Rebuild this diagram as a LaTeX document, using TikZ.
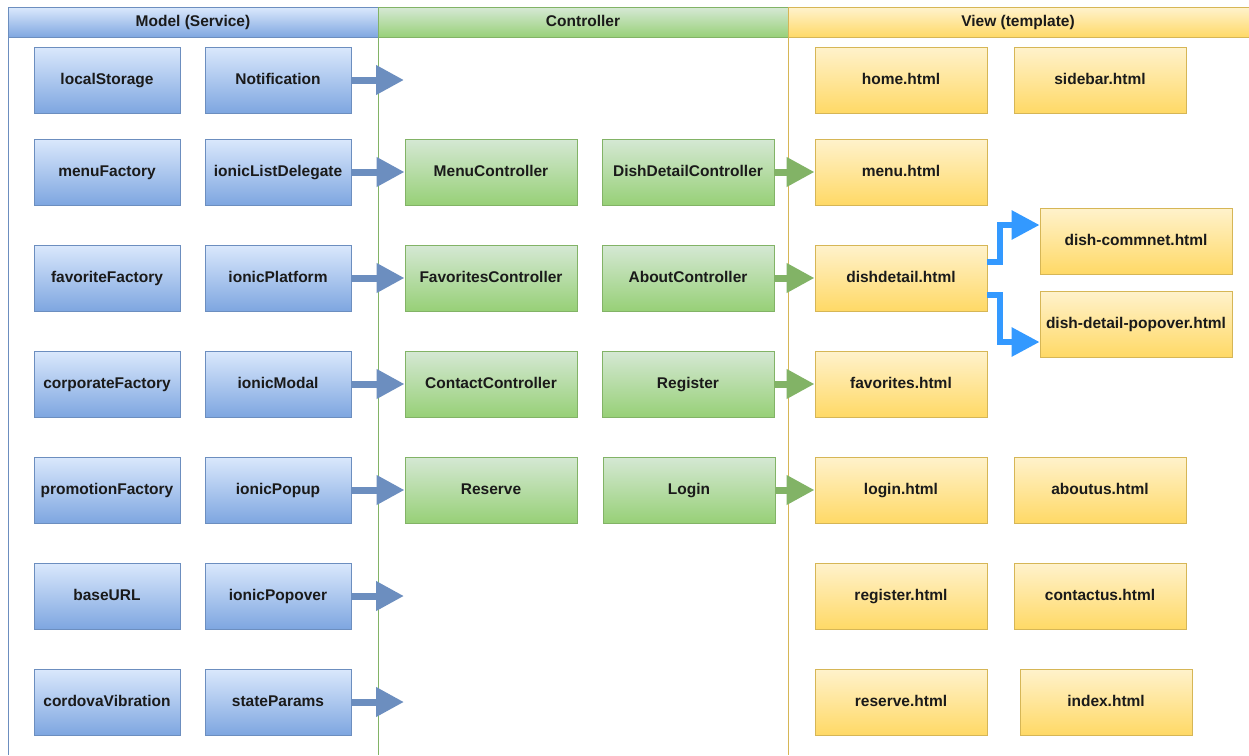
\documentclass[tikz,border=0pt]{standalone}
\usepackage{fontspec}
\setmainfont{Liberation Sans}
\usetikzlibrary{arrows.meta}
\definecolor{bTop}{HTML}{DAE8FC}\definecolor{bBot}{HTML}{7EA6E0}\definecolor{bLine}{HTML}{6C8EBF}
\definecolor{gTop}{HTML}{D5E8D4}\definecolor{gBot}{HTML}{97D077}\definecolor{gLine}{HTML}{82B366}
\definecolor{yTop}{HTML}{FFF2CC}\definecolor{yBot}{HTML}{FFD966}\definecolor{yLine}{HTML}{D6B656}
\definecolor{cArrow}{HTML}{3399FF}\definecolor{txt}{HTML}{1A1A1A}
\begin{document}
\begin{tikzpicture}[x=1pt,y=-1pt,
  every node/.style={font=\fontsize{15.5}{18}\selectfont\bfseries, text=txt, inner sep=0pt},
  lbl/.style={text height=11.5pt, text depth=3.5pt},
  box/.style={draw, line width=0.9pt, minimum height=66pt, lbl},
  mbox/.style={box, draw=bLine, top color=bTop, bottom color=bBot, minimum width=146pt},
  cbox/.style={box, draw=gLine, top color=gTop, bottom color=gBot, minimum width=172pt},
  vbox/.style={box, draw=yLine, top color=yTop, bottom color=yBot, minimum width=172pt},
  wbox/.style={vbox, minimum width=192pt},
  hdr/.style={draw, line width=0.9pt, minimum height=30pt, anchor=north west},
  barrow/.style={draw=bLine, line width=7pt, -{Triangle[length=28pt,width=28pt]}},
  garrow/.style={draw=gLine, line width=7pt, -{Triangle[length=28pt,width=28pt]}},
  carrow/.style={draw=cArrow, line width=6pt, -{Triangle[length=28pt,width=28pt]}}]
\useasboundingbox (0,0) rectangle (1249,755);
\fill[white] (0,0) rectangle (1249,755);
% pools
\draw[bLine, line width=0.9pt] (8,37) -- (8,755);
\draw[gLine, line width=0.9pt] (378,37) -- (378,755);
\draw[yLine, line width=0.9pt] (788,37) -- (788,755);
\node[hdr, draw=bLine, top color=bTop, bottom color=bBot, minimum width=370pt] (hm) at (8,7) {};
\node[lbl] (tm) at (193,22) {Model (Service)};
\node[hdr, draw=gLine, top color=gTop, bottom color=gBot, minimum width=410pt] (hc) at (378,7) {};
\node[lbl] (tc) at (583,22) {Controller};
\node[hdr, draw=yLine, top color=yTop, bottom color=yBot, minimum width=470pt] (hv) at (788,7) {};
\node[lbl] (tv) at (1018,22) {View (template)};
% model
\node[mbox] (m11) at (107,80) {localStorage};
\node[mbox] (m12) at (278,80) {Notification};
\node[mbox] (m21) at (107,172) {menuFactory};
\node[mbox] (m22) at (278,172) {ionicListDelegate};
\node[mbox] (m31) at (107,278) {favoriteFactory};
\node[mbox] (m32) at (278,278) {ionicPlatform};
\node[mbox] (m41) at (107,384) {corporateFactory};
\node[mbox] (m42) at (278,384) {ionicModal};
\node[mbox] (m51) at (107,490) {promotionFactory};
\node[mbox] (m52) at (278,490) {ionicPopup};
\node[mbox] (m61) at (107,596) {baseURL};
\node[mbox] (m62) at (278,596) {ionicPopover};
\node[mbox] (m71) at (107,702) {cordovaVibration};
\node[mbox] (m72) at (278,702) {stateParams};
% controller
\node[cbox] (c21) at (491,172) {MenuController};
\node[cbox] (c22) at (688,172) {DishDetailController};
\node[cbox] (c31) at (491,278) {FavoritesController};
\node[cbox] (c32) at (688,278) {AboutController};
\node[cbox] (c41) at (491,384) {ContactController};
\node[cbox] (c42) at (688,384) {Register};
\node[cbox] (c51) at (491,490) {Reserve};
\node[cbox] (c52) at (689,490) {Login};
% view
\node[vbox] (v11) at (901,80) {home.html};
\node[vbox] (v12) at (1100,80) {sidebar.html};
\node[vbox] (v21) at (901,172) {menu.html};
\node[vbox] (v31) at (901,278) {dishdetail.html};
\node[wbox] (dc) at (1136,241) {dish-commnet.html};
\node[wbox] (dp) at (1136,324) {dish-detail-popover.html};
\node[vbox] (v41) at (901,384) {favorites.html};
\node[vbox] (v51) at (901,490) {login.html};
\node[vbox] (v52) at (1100,490) {aboutus.html};
\node[vbox] (v61) at (901,596) {register.html};
\node[vbox] (v62) at (1100,596) {contactus.html};
\node[vbox] (v71) at (901,702) {reserve.html};
\node[vbox] (v72) at (1106,702) {index.html};
% free ends
\coordinate (e1) at (404,80);
\coordinate (e6) at (404,596);
\coordinate (e7) at (404,702);
% blue arrows
\draw[barrow] (m12.east) -- (e1);
\draw[barrow] (m22.east) -- (c21.west);
\draw[barrow] (m32.east) -- (c31.west);
\draw[barrow] (m42.east) -- (c41.west);
\draw[barrow] (m52.east) -- (c51.west);
\draw[barrow] (m62.east) -- (e6);
\draw[barrow] (m72.east) -- (e7);
% green arrows
\draw[garrow] (c22.east) -- (v21.west);
\draw[garrow] (c32.east) -- (v31.west);
\draw[garrow] (c42.east) -- (v41.west);
\draw[garrow] (c52.east) -- (v51.west);
% bright arrows
\draw[carrow] ([yshift=16pt]v31.east) -- ++(13,0) |- ([yshift=16pt]dc.west);
\draw[carrow] ([yshift=-17pt]v31.east) -- ++(13,0) |- ([yshift=-18pt]dp.west);
\end{tikzpicture}
\end{document}
